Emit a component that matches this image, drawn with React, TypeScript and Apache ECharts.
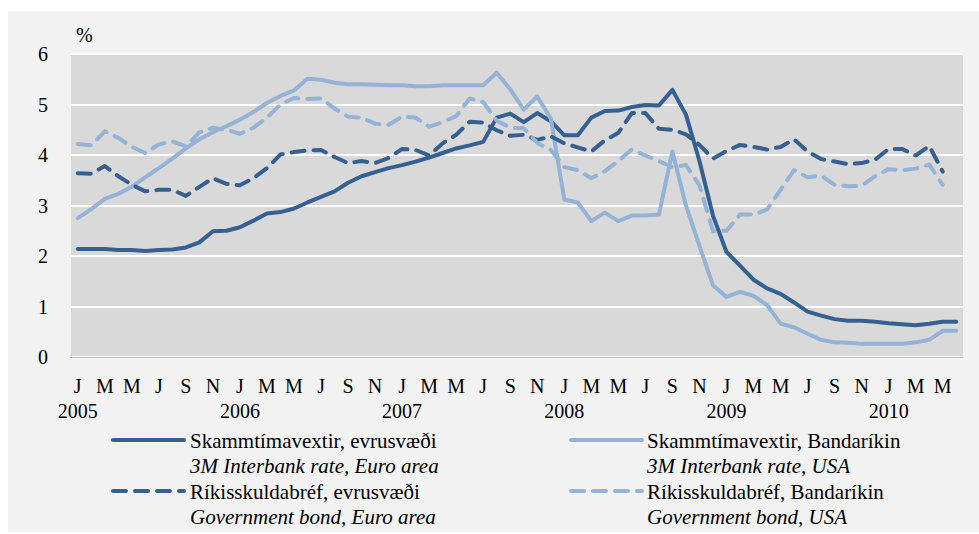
import React, { useEffect, useRef } from "react";
import * as echarts from "echarts";

const years = ["2005", "2006", "2007", "2008", "2009", "2010"];
const monthLetters = ["J", "F", "M", "A", "M", "J", "J", "A", "S", "O", "N", "D"];
const categories = years
  .flatMap((y) => monthLetters.map((_, k) => `${y}-${String(k + 1).padStart(2, "0")}`))
  .slice(0, 66);

const yTicks = [0, 1, 2, 3, 4, 5, 6];

// Skammtímavextir, evrusvæði (3M interbank, euro area)
const euroInterbank = [
  2.14, 2.14, 2.14, 2.12, 2.12, 2.10, 2.12, 2.13, 2.17, 2.27, 2.49, 2.50,
  2.57, 2.70, 2.84, 2.87, 2.94, 3.06, 3.17, 3.28, 3.45, 3.58, 3.66, 3.74,
  3.80, 3.87, 3.95, 4.04, 4.13, 4.19, 4.26, 4.74, 4.82, 4.65, 4.83, 4.67,
  4.39, 4.39, 4.74, 4.87, 4.88, 4.95, 4.99, 4.98, 5.29, 4.80, 3.88, 2.80,
  2.08, 1.81, 1.53, 1.36, 1.25, 1.08, 0.90, 0.82, 0.75, 0.72, 0.72, 0.70,
  0.67, 0.65, 0.63, 0.66, 0.70, 0.70,
];

// Skammtímavextir, Bandaríkin (3M interbank, USA)
const usInterbank = [
  2.75, 2.93, 3.13, 3.23, 3.37, 3.56, 3.74, 3.93, 4.13, 4.31, 4.45, 4.57,
  4.70, 4.85, 5.03, 5.17, 5.28, 5.51, 5.49, 5.43, 5.40, 5.40, 5.39, 5.38,
  5.38, 5.36, 5.36, 5.38, 5.38, 5.38, 5.38, 5.63, 5.30, 4.90, 5.16, 4.72,
  3.12, 3.06, 2.69, 2.86, 2.69, 2.80, 2.80, 2.82, 4.07, 3.00, 2.20, 1.42,
  1.19, 1.29, 1.21, 1.03, 0.66, 0.59, 0.46, 0.34, 0.29, 0.28, 0.26, 0.26,
  0.26, 0.26, 0.29, 0.34, 0.52, 0.52,
];

// Ríkisskuldabréf, evrusvæði (government bond, euro area)
const euroBond = [
  3.64, 3.63, 3.78, 3.58, 3.41, 3.28, 3.31, 3.31, 3.19, 3.37, 3.54, 3.43,
  3.40, 3.54, 3.74, 4.01, 4.06, 4.09, 4.10, 3.96, 3.84, 3.88, 3.84, 3.94,
  4.12, 4.10, 3.99, 4.23, 4.40, 4.66, 4.64, 4.49, 4.38, 4.40, 4.30, 4.37,
  4.23, 4.15, 4.07, 4.29, 4.44, 4.83, 4.83, 4.52, 4.50, 4.41, 4.20, 3.93,
  4.08, 4.20, 4.16, 4.11, 4.16, 4.31, 4.07, 3.92, 3.87, 3.82, 3.84, 3.91,
  4.12, 4.12, 3.99, 4.18, 3.67, null,
];

// Ríkisskuldabréf, Bandaríkin (government bond, USA)
const usBond = [
  4.22, 4.19, 4.47, 4.34, 4.16, 4.04, 4.21, 4.27, 4.17, 4.45, 4.54, 4.50,
  4.42, 4.54, 4.74, 5.00, 5.13, 5.11, 5.12, 4.92, 4.76, 4.74, 4.62, 4.60,
  4.76, 4.74, 4.56, 4.65, 4.77, 5.12, 5.05, 4.68, 4.54, 4.53, 4.24, 4.10,
  3.76, 3.70, 3.54, 3.68, 3.88, 4.11, 3.99, 3.88, 3.76, 3.80, 3.40, 2.49,
  2.50, 2.82, 2.82, 2.92, 3.31, 3.70, 3.56, 3.59, 3.41, 3.38, 3.39, 3.58,
  3.72, 3.70, 3.73, 3.81, 3.41, null,
];

const legendMain = [
  "Skammtímavextir, evrusvæði",
  "Skammtímavextir, Bandaríkin",
  "Ríkisskuldabréf, evrusvæði",
  "Ríkisskuldabréf, Bandaríkin",
];
const legendSub = [
  "3M Interbank rate, Euro area",
  "3M Interbank rate, USA",
  "Government bond, Euro area",
  "Government bond, USA",
];

const DARK = "#366092";
const LIGHT = "#95b3d7";
const FONT = "Liberation Serif";
const DASH = [13, 9];

export default function App() {
  const ref = useRef<HTMLDivElement>(null);

  useEffect(() => {
    if (!ref.current) return;
    const chart = echarts.init(ref.current, undefined, { renderer: "svg" });

    const colors = [DARK, LIGHT, DARK, LIGHT];
    const dashed = [false, false, true, true];
    const seriesData = [euroInterbank, usInterbank, euroBond, usBond];

    const legendPos = [
      { lx1: 113, lx2: 184, tx: 190, y: 441 },
      { lx1: 571, lx2: 642, tx: 647, y: 441 },
      { lx1: 113, lx2: 184, tx: 190, y: 492 },
      { lx1: 571, lx2: 642, tx: 647, y: 492 },
    ];

    const legendGraphics: any[] = [];
    legendPos.forEach((p, i) => {
      legendGraphics.push({
        type: "line",
        shape: { x1: p.lx1, y1: p.y - 1, x2: p.lx2, y2: p.y - 1 },
        style: {
          stroke: colors[i],
          lineWidth: 4,
          lineCap: "round",
          lineDash: dashed[i] ? DASH : null,
        },
      });
      legendGraphics.push({
        type: "text",
        x: p.tx,
        y: p.y,
        style: {
          text: legendMain[i],
          fontSize: 21,
          fontFamily: FONT,
          fill: "#000",
          verticalAlign: "middle",
        },
      });
      legendGraphics.push({
        type: "text",
        x: p.tx,
        y: p.y + 25,
        style: {
          text: legendSub[i],
          fontSize: 21,
          fontStyle: "italic",
          fontFamily: FONT,
          fill: "#000",
          verticalAlign: "middle",
        },
      });
    });

    const labelBase = { color: "#000", fontSize: 20, fontFamily: FONT };

    chart.setOption({
      animation: false,
      backgroundColor: "#f2f2f2",
      textStyle: { fontFamily: FONT },
      grid: {
        left: 71,
        right: 16,
        top: 54,
        bottom: 177,
        show: true,
        backgroundColor: "#d9d9d9",
        borderWidth: 0,
      },
      xAxis: [
        {
          type: "category",
          data: categories,
          boundaryGap: true,
          axisLine: { show: true, lineStyle: { color: "#bfbfbf", width: 1 } },
          axisTick: { show: false },
          splitLine: { show: false },
          axisLabel: {
            ...labelBase,
            interval: 1,
            margin: 19,
            formatter: (_v: string, index: number) => monthLetters[index % 12],
          },
        },
        {
          type: "category",
          position: "bottom",
          data: categories,
          boundaryGap: true,
          axisLine: { show: false },
          axisTick: { show: false },
          splitLine: { show: false },
          axisLabel: {
            ...labelBase,
            interval: (index: number) => index % 12 === 0,
            margin: 44,
            formatter: (_v: string, index: number) => years[Math.floor(index / 12)],
          },
        },
      ],
      yAxis: {
        type: "value",
        min: yTicks[0],
        max: yTicks[yTicks.length - 1],
        interval: 1,
        axisLine: { show: false },
        axisTick: { show: false },
        splitLine: { show: true, lineStyle: { color: "#ffffff", width: 2 } },
        axisLabel: { ...labelBase, margin: 23 },
      },
      series: seriesData.map((d, i) => ({
        name: legendMain[i],
        type: "line",
        xAxisIndex: 0,
        data: d,
        showSymbol: false,
        symbol: "none",
        connectNulls: false,
        lineStyle: {
          color: colors[i],
          width: 4,
          type: dashed[i] ? DASH : "solid",
          cap: "round",
          join: "round",
        },
      })),
      graphic: [
        { type: "rect", shape: { x: 0, y: 0, width: 979, height: 11 }, style: { fill: "#ffffff" } },
        { type: "rect", shape: { x: 0, y: 0, width: 8, height: 534 }, style: { fill: "#ffffff" } },
        { type: "rect", shape: { x: 0, y: 532, width: 979, height: 2 }, style: { fill: "#ffffff" } },
        {
          type: "text",
          x: 76,
          y: 35,
          style: { text: "%", fontSize: 20, fontFamily: FONT, fill: "#000", verticalAlign: "middle" },
        },
        ...legendGraphics,
      ],
    });

    return () => chart.dispose();
  }, []);

  return (
    <div
      ref={ref}
      style={{ position: "absolute", left: 0, top: 0, width: 979, height: 534 }}
    />
  );
}
